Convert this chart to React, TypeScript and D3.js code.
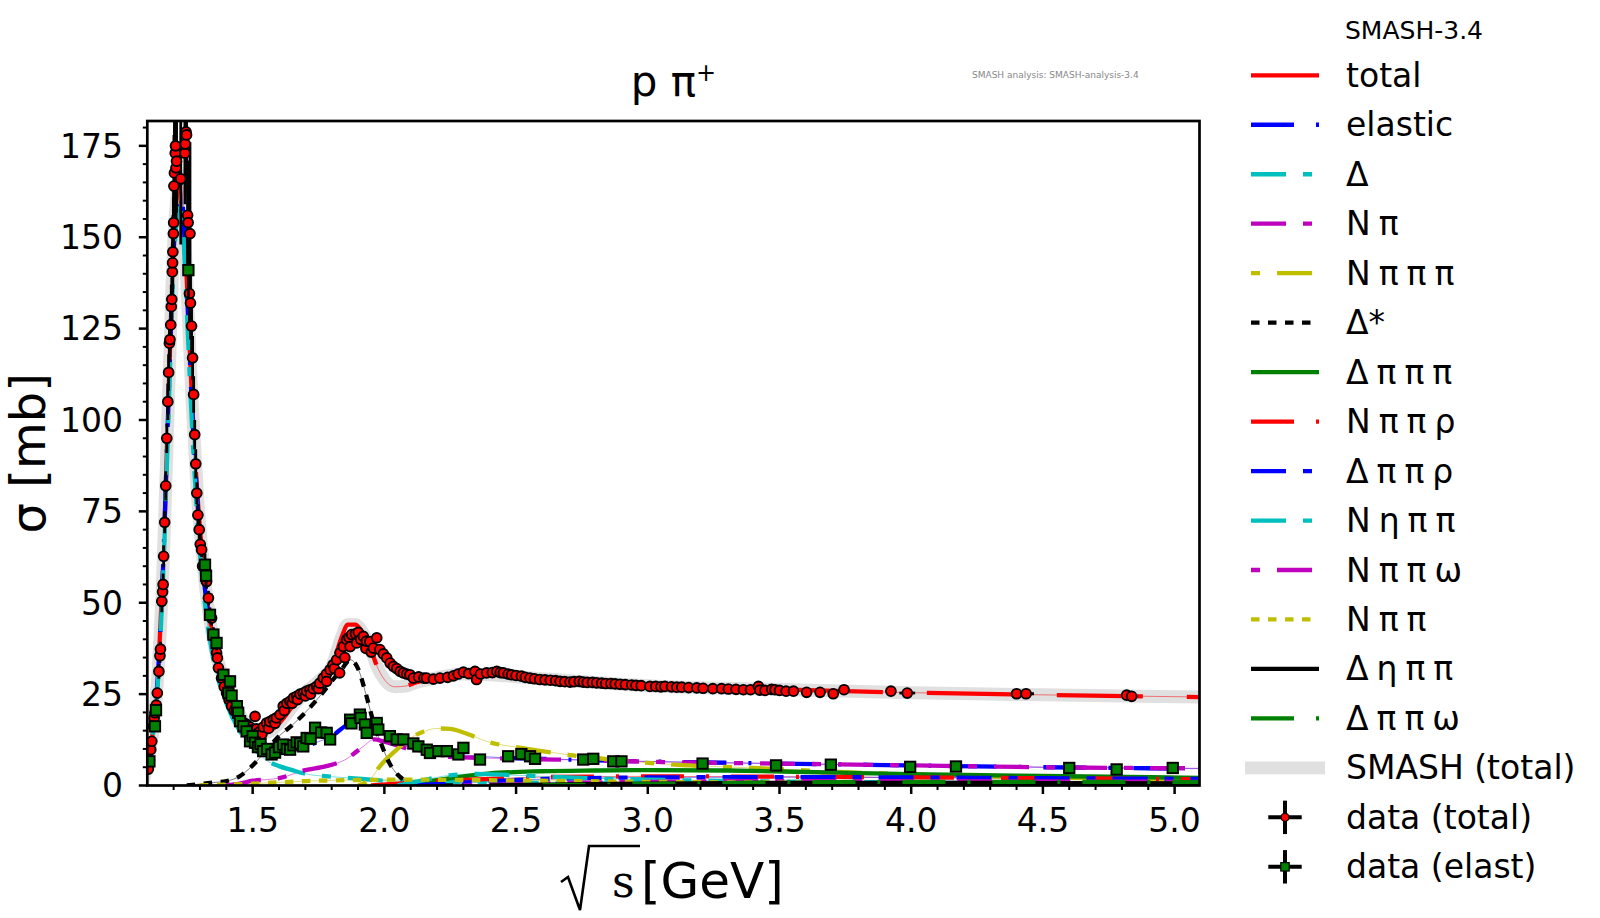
import { useEffect, useRef } from 'react'
import * as d3 from 'd3'

type Pt = [number, number]
type DataPt = [number, number, number, number?]

const W = 1600
const H = 918
const PLOT = { left: 147.3, right: 1199.5, top: 121, bottom: 785.5 }
const X_DOMAIN: [number, number] = [1.1, 5.0945]
const Y_DOMAIN: [number, number] = [0, 181.8]

const X_MAJOR = [1.5, 2.0, 2.5, 3.0, 3.5, 4.0, 4.5, 5.0]
const Y_MAJOR = [0, 25, 50, 75, 100, 125, 150, 175]

// SMASH curves, [sqrt(s) GeV, sigma mb]
const TOTAL: Pt[] = [
  [1.08, 0], [1.10, 6], [1.12, 14], [1.14, 30], [1.16, 60], [1.18, 105], [1.20, 148], [1.215, 163],
  [1.225, 167], [1.235, 160], [1.25, 138], [1.27, 105], [1.29, 80], [1.32, 55], [1.35, 40], [1.40, 27],
  [1.45, 19.5], [1.50, 15], [1.55, 14.5], [1.60, 17], [1.65, 21.5], [1.70, 25.5], [1.75, 28.5],
  [1.80, 32.5], [1.84, 41], [1.86, 44], [1.89, 44], [1.92, 41.5], [1.95, 37], [1.97, 33], [2.00, 29],
  [2.04, 27], [2.08, 27.2], [2.12, 28.2], [2.20, 29.5], [2.30, 30.5], [2.40, 30.3], [2.60, 29.2],
  [2.80, 28.2], [3.00, 27.3], [3.50, 26.3], [4.00, 25.4], [4.50, 24.8], [5.10, 24.2],
]
const ELASTIC: Pt[] = [
  [1.08, 0], [1.10, 6], [1.12, 14], [1.14, 30], [1.16, 60], [1.18, 104], [1.20, 146], [1.215, 161],
  [1.225, 165], [1.235, 158], [1.25, 136], [1.27, 103], [1.29, 78], [1.32, 53], [1.35, 38.5],
  [1.40, 25.5], [1.45, 17.5], [1.50, 12.5], [1.55, 11], [1.60, 10.3], [1.65, 10.2], [1.70, 10.8],
  [1.75, 12], [1.80, 13.5], [1.85, 16.2], [1.90, 18], [1.93, 17.5], [1.96, 16], [2.00, 14], [2.10, 11.2],
  [2.20, 9.5], [2.30, 8.4], [2.40, 7.8], [2.60, 7.3], [2.80, 6.9], [3.00, 6.6], [3.50, 6.0], [4.00, 5.5],
  [4.50, 5.0], [5.10, 4.6],
]
const DELTA: Pt[] = [
  [1.08, 0], [1.10, 5.5], [1.12, 13], [1.14, 28], [1.16, 57], [1.18, 100], [1.20, 142], [1.215, 157],
  [1.225, 160], [1.235, 153], [1.25, 130], [1.27, 98], [1.29, 73], [1.32, 49], [1.35, 35], [1.40, 22.5],
  [1.45, 15], [1.50, 10.5], [1.55, 7], [1.60, 5.3], [1.65, 4.2], [1.70, 3.2], [1.80, 2.4], [1.90, 1.9],
  [2.00, 1.3], [2.20, 1.1], [2.50, 0.8], [3.00, 0.5], [4.00, 0.3], [5.10, 0.2],
]
const N_PI: Pt[] = [
  [1.40, 0], [1.45, 0.5], [1.50, 1.3], [1.55, 1.6], [1.60, 2.0], [1.70, 4.2], [1.78, 5.3], [1.85, 7],
  [1.92, 10.7], [1.96, 12.6], [2.00, 12], [2.10, 9.8], [2.20, 8], [2.30, 7.7], [2.50, 7.3], [2.80, 6.9],
  [3.00, 6.5], [3.50, 6.0], [4.00, 5.5], [4.50, 5.0], [5.10, 4.7],
]
const N_3PI: Pt[] = [
  [1.90, 0], [1.95, 2], [1.98, 5], [2.05, 10], [2.10, 13], [2.15, 14.8], [2.20, 15.6], [2.25, 15.5],
  [2.30, 14.5], [2.40, 11.8], [2.50, 10.5], [2.70, 8.4], [2.90, 6.8], [3.10, 5.7], [3.40, 4.8],
  [3.70, 3.8], [4.00, 3.0], [4.50, 2.2], [5.10, 1.6],
]
const DELTA_STAR: Pt[] = [
  [1.25, 0], [1.35, 0.8], [1.40, 1.2], [1.45, 2.5], [1.50, 5.5], [1.55, 9.5], [1.60, 13.5], [1.65, 16.5],
  [1.70, 20], [1.75, 24], [1.80, 28.5], [1.84, 32], [1.87, 34.4], [1.90, 32], [1.93, 25], [1.96, 17],
  [1.99, 11], [2.02, 6], [2.05, 3], [2.08, 1.3], [2.12, 0.5], [2.20, 0.1], [2.30, 0],
]
const DELTA_3PI: Pt[] = [
  [2.00, 0], [2.10, 0.5], [2.20, 1.5], [2.30, 2.5], [2.40, 3.3], [2.60, 3.9], [2.80, 4.1], [3.00, 4.2],
  [3.30, 4.1], [3.60, 3.7], [4.00, 3.1], [4.50, 2.6], [5.10, 2.1],
]
const N_2PI_RHO: Pt[] = [
  [1.95, 0], [2.05, 0.5], [2.20, 1.2], [2.40, 1.8], [2.60, 2.3], [3.00, 2.5], [3.50, 2.4], [4.00, 2.2],
  [4.50, 2.0], [5.10, 1.7],
]
const DELTA_2PI_RHO: Pt[] = [
  [2.10, 0], [2.30, 0.8], [2.50, 1.5], [3.00, 2.2], [3.50, 2.3], [4.00, 2.2], [4.50, 2.0], [5.10, 1.8],
]
const N_ETA_2PI: Pt[] = [
  [2.05, 0], [2.15, 1.5], [2.25, 2.8], [2.35, 3.2], [2.50, 2.8], [2.70, 2.2], [3.00, 1.6], [3.50, 1.1],
  [4.00, 0.8], [4.50, 0.6], [5.10, 0.5],
]
const N_2PI_OMEGA: Pt[] = [
  [2.30, 0], [2.60, 0.5], [3.00, 1.0], [3.50, 1.2], [4.00, 1.2], [4.50, 1.1], [5.10, 1.0],
]
const N_2PI: Pt[] = [
  [1.30, 0], [1.50, 0.5], [1.70, 1.2], [1.90, 1.5], [2.10, 1.6], [2.30, 1.5], [2.60, 1.3], [3.00, 1.0],
  [3.50, 0.8], [4.00, 0.6], [5.10, 0.4],
]
const DELTA_ETA_2PI: Pt[] = [
  [2.40, 0], [2.70, 0.3], [3.00, 0.5], [3.50, 0.7], [4.00, 0.7], [5.10, 0.6],
]
const DELTA_2PI_OMEGA: Pt[] = [
  [2.60, 0], [3.00, 0.4], [3.50, 0.8], [4.00, 1.0], [4.50, 1.0], [5.10, 0.9],
]

// experimental points, [sqrt(s), sigma, d sigma, d sqrt(s)]
const DATA_TOTAL: DataPt[] = [
  [1.104, 4.5, 1], [1.108, 7, 1], [1.113, 9.8, 1], [1.117, 12.1, 1], [1.123, 16.2, 1], [1.126, 18.5, 1],
  [1.129, 19.9, 1.5], [1.134, 22, 1.5], [1.138, 25.3, 1.5], [1.144, 31.2, 2], [1.148, 35.5, 2],
  [1.150, 37.3, 2], [1.155, 50.4, 3], [1.158, 53, 3], [1.160, 55, 3], [1.162, 62.7, 3], [1.166, 72, 3],
  [1.170, 82, 4], [1.174, 95, 4], [1.178, 105, 5], [1.181, 113, 5], [1.184, 121, 5], [1.186, 122, 5],
  [1.189, 126, 5], [1.191, 131, 6], [1.193, 133, 6], [1.195, 140.5, 8], [1.196, 143, 8], [1.197, 146, 10],
  [1.199, 151, 10], [1.200, 154, 10], [1.201, 164, 14], [1.203, 167.6, 14], [1.206, 173, 14],
  [1.207, 175, 14], [1.209, 169, 14], [1.211, 170.8, 14], [1.227, 166, 18], [1.243, 173, 14],
  [1.244, 175.5, 14], [1.247, 178.8, 12], [1.249, 178, 12], [1.253, 156, 15], [1.255, 154, 15],
  [1.262, 151, 25], [1.260, 134.6, 10], [1.264, 132, 10], [1.268, 125.7, 8], [1.272, 117, 6],
  [1.276, 107, 5], [1.280, 96, 4], [1.284, 88, 4], [1.288, 80, 3], [1.292, 74, 3], [1.297, 70, 3],
  [1.301, 66, 3], [1.306, 64.5, 2], [1.310, 60, 2], [1.325, 55.8, 2], [1.332, 51.3, 2], [1.344, 45.8, 2],
  [1.351, 40.8, 1.5], [1.363, 36.3, 1.5], [1.366, 34.9, 1.5], [1.370, 32.2, 1.5], [1.382, 29.4, 1],
  [1.392, 27, 1], [1.401, 25.3, 1], [1.410, 23.5, 1], [1.420, 21.7, 1], [1.430, 20.5, 1], [1.440, 19.9, 1],
  [1.452, 18, 1], [1.465, 17.2, 1], [1.477, 16.7, 1], [1.490, 16, 1], [1.502, 15.3, 1], [1.509, 18.9, 1],
  [1.515, 15.5, 1], [1.520, 14.3, 1], [1.528, 14.8, 1], [1.535, 14, 1], [1.540, 16, 1], [1.553, 17.1, 1],
  [1.560, 15.6, 1], [1.565, 17.5, 1], [1.578, 18, 1], [1.585, 17, 1], [1.590, 18.5, 1], [1.604, 19.4, 1],
  [1.616, 21.7, 1], [1.620, 20.5, 1], [1.630, 22.5, 1], [1.642, 23, 1], [1.650, 22.5, 1], [1.655, 24, 1],
  [1.667, 24.4, 1], [1.670, 23.5, 1], [1.680, 25, 1], [1.692, 25.3, 1], [1.700, 24.5, 1], [1.705, 25.8, 1],
  [1.718, 26.2, 1], [1.720, 25, 1], [1.730, 26.5, 1], [1.743, 27.1, 1], [1.750, 26.5, 1], [1.755, 28, 1],
  [1.768, 29.4, 1], [1.780, 30.5, 1], [1.781, 28.5, 1], [1.794, 31.7, 1], [1.805, 33, 1], [1.810, 32, 1],
  [1.819, 34.4, 1], [1.830, 30.8, 1], [1.832, 36.3, 1], [1.844, 38, 1], [1.850, 35, 1], [1.857, 39.9, 1],
  [1.866, 40.5, 1], [1.870, 38, 1], [1.876, 41.3, 1], [1.890, 41.5, 1], [1.895, 39, 1], [1.901, 41.9, 1],
  [1.910, 40, 1], [1.920, 40.8, 1], [1.930, 37.5, 1], [1.932, 39.5, 1], [1.945, 39.4, 1], [1.950, 36.5, 1],
  [1.958, 37.6, 1], [1.971, 40.4, 1], [1.983, 37.2, 1], [1.996, 36, 1], [2.009, 34.9, 1], [2.022, 33.5, 1],
  [2.034, 32.6, 1], [2.047, 32, 1], [2.060, 31.2, 1], [2.072, 30.8, 1], [2.085, 30.5, 1], [2.097, 30.3, 1],
  [2.110, 29.4, 1], [2.130, 29.7, 1], [2.150, 29.4, 1], [2.160, 29.4, 1], [2.186, 29.1, 1], [2.211, 29.4, 1],
  [2.240, 29.6, 1], [2.262, 30, 1], [2.280, 30.5, 1], [2.300, 31, 1], [2.320, 30.6, 1], [2.344, 31.2, 1],
  [2.350, 29, 1], [2.365, 30.5, 1], [2.388, 30.8, 1], [2.410, 30.9, 1], [2.427, 31.2, 1], [2.440, 30.9, 1],
  [2.452, 30.8, 1], [2.470, 30.5, 1], [2.483, 30.3, 1], [2.500, 30.1, 1], [2.520, 29.9, 1], [2.535, 29.6, 1],
  [2.553, 29.4, 1], [2.570, 29.2, 1], [2.590, 29, 1], [2.610, 28.9, 1], [2.630, 28.8, 1], [2.650, 28.7, 1],
  [2.667, 28.5, 1], [2.685, 28.4, 1], [2.705, 28.3, 1], [2.720, 28.4, 1], [2.740, 28.5, 1], [2.755, 28.3, 1],
  [2.770, 28.2, 1], [2.790, 28.2, 1], [2.806, 28.1, 1], [2.825, 28, 1], [2.840, 27.9, 1], [2.860, 27.9, 1],
  [2.876, 27.8, 1], [2.895, 27.7, 1], [2.915, 27.6, 1], [2.939, 27.5, 1], [2.955, 27.4, 1], [2.975, 27.3, 1],
  [3.008, 27.1, 1], [3.030, 27.1, 1], [3.050, 27, 1], [3.065, 27.1, 1], [3.090, 27, 1], [3.110, 26.9, 1],
  [3.129, 26.9, 1], [3.155, 26.8, 1], [3.186, 26.7, 1], [3.210, 26.6, 1], [3.247, 26.5, 1], [3.280, 26.5, 1],
  [3.306, 26.4, 1], [3.335, 26.3, 1], [3.363, 26.2, 1], [3.390, 26.2, 1], [3.420, 27.1, 1], [3.425, 26.1, 1],
  [3.445, 26, 1], [3.470, 26.3, 1], [3.483, 26.2, 1], [3.500, 26, 1], [3.525, 25.8, 1], [3.553, 25.8, 1],
  [3.603, 25.5, 1], [3.654, 25.5, 1], [3.704, 25.1, 1], [3.745, 26.2, 1], [3.923, 25.8, 1],
  [3.985, 25.3, 1, 0.03], [4.400, 25.1, 1], [4.436, 25.1, 1, 0.03], [4.818, 24.7, 1], [4.837, 24.4, 1],
]
const DATA_ELAST: DataPt[] = [
  [1.108, 6.6, 1], [1.129, 16.2, 1.5], [1.133, 20.6, 1.5], [1.256, 141, 8], [1.319, 60.4, 3],
  [1.323, 57.4, 3], [1.338, 46.7, 2], [1.351, 41.3, 2], [1.363, 39, 2], [1.389, 30.3, 1.5], [1.408, 25.3, 1],
  [1.414, 28.5, 1.5], [1.420, 24.6, 1], [1.440, 21.7, 1], [1.445, 19.9, 1], [1.452, 17.6, 1],
  [1.465, 16.2, 1], [1.477, 14.8, 1], [1.490, 12.1, 1], [1.500, 13.5, 1], [1.509, 11.7, 1], [1.520, 10.5, 1],
  [1.530, 11.3, 1], [1.540, 9.4, 1], [1.555, 10, 1], [1.572, 8.5, 1], [1.585, 9, 1], [1.600, 10.5, 1],
  [1.616, 11.2, 1], [1.630, 10, 1], [1.642, 9.8, 1], [1.655, 11, 1], [1.667, 11.8, 1], [1.680, 11.5, 1],
  [1.692, 10.7, 1], [1.705, 13, 1], [1.720, 12.8, 1], [1.737, 15.8, 1], [1.760, 14.5, 1], [1.781, 14.4, 1],
  [1.794, 12.6, 1], [1.870, 18, 1], [1.875, 17, 1], [1.907, 19.4, 1], [1.910, 18.5, 1], [1.926, 16.7, 1],
  [1.933, 14.4, 1], [1.971, 17.1, 1], [1.977, 15.3, 1], [2.021, 13.5, 1], [2.047, 12.6, 1], [2.072, 12.6, 1],
  [2.110, 11.5, 1], [2.129, 10.7, 1], [2.161, 9.8, 1], [2.173, 8.9, 1], [2.205, 9.4, 1], [2.237, 9.4, 1],
  [2.281, 8.5, 1], [2.300, 10.3, 1], [2.363, 7.1, 1], [2.470, 8, 1], [2.520, 8.6, 1], [2.553, 8, 1],
  [2.572, 7.3, 1], [2.755, 7.1, 1], [2.793, 7.3, 1], [2.869, 6.6, 1], [2.900, 6.6, 1], [3.208, 6, 1],
  [3.487, 5.5, 1], [3.695, 5.7, 1], [3.996, 5.1, 1], [4.170, 5.2, 1], [4.600, 4.8, 1], [4.780, 4.4, 1],
  [4.993, 4.8, 1],
]

const C = { r: '#FF0000', b: '#0000FF', c: '#00BFBF', m: '#BF00BF', y: '#BFBF00', k: '#000000', g: '#008000' }
const DASH_A = '43 22 3 22'
const DASH_B = '35 17 9 17'
const DASH_D = '8.5 8.5'

const CURVES = [
  { label: 'total', color: C.r, dash: '86 44', legendDash: '', offset: 0, data: TOTAL },
  { label: 'elastic', color: C.b, dash: DASH_A, legendDash: DASH_A, offset: 0, data: ELASTIC },
  { label: 'Δ', color: C.c, dash: DASH_B, legendDash: DASH_B, offset: 0, data: DELTA },
  { label: 'N π', color: C.m, dash: DASH_B, legendDash: DASH_B, offset: 0, data: N_PI },
  { label: 'N π π π', color: C.y, dash: DASH_B, legendDash: DASH_B, offset: 52, data: N_3PI },
  { label: 'Δ*', color: C.k, dash: DASH_D, legendDash: DASH_D, offset: 0, data: DELTA_STAR },
  { label: 'Δ π π π', color: C.g, dash: '', legendDash: '', offset: 0, data: DELTA_3PI },
  { label: 'N π π ρ', color: C.r, dash: DASH_A, legendDash: DASH_A, offset: 0, data: N_2PI_RHO },
  { label: 'Δ π π ρ', color: C.b, dash: DASH_B, legendDash: DASH_B, offset: 0, data: DELTA_2PI_RHO },
  { label: 'N η π π', color: C.c, dash: DASH_B, legendDash: DASH_B, offset: 0, data: N_ETA_2PI },
  { label: 'N π π ω', color: C.m, dash: DASH_B, legendDash: DASH_B, offset: 52, data: N_2PI_OMEGA },
  { label: 'N π π', color: C.y, dash: DASH_D, legendDash: DASH_D, offset: 0, data: N_2PI },
  { label: 'Δ η π π', color: C.k, dash: '', legendDash: '', offset: 0, data: DELTA_ETA_2PI },
  { label: 'Δ π π ω', color: C.g, dash: DASH_A, legendDash: DASH_A, offset: 0, data: DELTA_2PI_OMEGA },
]

const FONT = '"DejaVu Sans", Verdana, sans-serif'
const SERIF = '"DejaVu Serif", "Liberation Serif", serif'

export default function App() {
  const svgRef = useRef<SVGSVGElement>(null)

  useEffect(() => {
    document.body.style.margin = '0'
    const svgEl = svgRef.current
    if (!svgEl) return
    const svg = d3.select(svgEl)
    svg.selectAll('*').remove()
    svg.attr('width', W).attr('height', H)

    svg.append('rect').attr('width', W).attr('height', H).attr('fill', '#fff')

    const x = d3.scaleLinear().domain(X_DOMAIN).range([PLOT.left, PLOT.right])
    const y = d3.scaleLinear().domain(Y_DOMAIN).range([PLOT.bottom, PLOT.top])

    svg.append('defs').append('clipPath').attr('id', 'plot-clip')
      .append('rect')
      .attr('x', PLOT.left).attr('y', PLOT.top)
      .attr('width', PLOT.right - PLOT.left).attr('height', PLOT.bottom - PLOT.top)

    const plot = svg.append('g').attr('clip-path', 'url(#plot-clip)')

    const line = d3.line<Pt>()
      .x(d => x(d[0]))
      .y(d => y(d[1]))
      .curve(d3.curveMonotoneX)

    // SMASH (total) band
    plot.append('path')
      .attr('d', line(TOTAL))
      .attr('fill', 'none')
      .attr('stroke', '#E0E0E0')
      .attr('stroke-width', 13)
      .attr('stroke-linejoin', 'round')

    // thin companions
    CURVES.forEach(c => {
      plot.append('path')
        .attr('d', line(c.data))
        .attr('fill', 'none')
        .attr('stroke', c.color)
        .attr('stroke-width', 1)
        .attr('stroke-opacity', 0.5)
    })

    // thick dashed channels
    CURVES.forEach(c => {
      plot.append('path')
        .attr('d', line(c.data))
        .attr('fill', 'none')
        .attr('stroke', c.color)
        .attr('stroke-width', 4.3)
        .attr('stroke-dasharray', c.dash || null)
        .attr('stroke-dashoffset', c.offset)
    })

    // data with error bars
    const drawData = (pts: DataPt[], kind: 'circle' | 'square') => {
      const g = plot.append('g')
      pts.forEach(p => {
        const [s, v, dv, ds] = p
        g.append('line')
          .attr('x1', x(s)).attr('x2', x(s))
          .attr('y1', y(v - dv)).attr('y2', y(v + dv))
          .attr('stroke', '#000').attr('stroke-width', 2.8)
        if (ds) {
          g.append('line')
            .attr('x1', x(s - ds)).attr('x2', x(s + ds))
            .attr('y1', y(v)).attr('y2', y(v))
            .attr('stroke', '#000').attr('stroke-width', 2.8)
        }
      })
      pts.forEach(p => {
        const [s, v] = p
        if (kind === 'circle') {
          g.append('circle')
            .attr('cx', x(s)).attr('cy', y(v)).attr('r', 4.9)
            .attr('fill', C.r).attr('stroke', '#000').attr('stroke-width', 1.9)
        } else {
          g.append('rect')
            .attr('x', x(s) - 5.2).attr('y', y(v) - 5.2).attr('width', 10.4).attr('height', 10.4)
            .attr('fill', C.g).attr('stroke', '#000').attr('stroke-width', 1.9)
        }
      })
    }
    drawData(DATA_TOTAL, 'circle')
    drawData(DATA_ELAST, 'square')

    // frame
    svg.append('rect')
      .attr('x', PLOT.left).attr('y', PLOT.top)
      .attr('width', PLOT.right - PLOT.left).attr('height', PLOT.bottom - PLOT.top)
      .attr('fill', 'none').attr('stroke', '#000').attr('stroke-width', 2.7)

    // ticks
    const xMinor = d3.range(12, 51).map(v => v / 10).filter(v => !X_MAJOR.some(m => Math.abs(m - v) < 1e-6))
    const yMinor = d3.range(0, 182, 5).filter(v => v % 25 !== 0)
    const ticks = svg.append('g').attr('stroke', '#000')
    X_MAJOR.forEach(v => ticks.append('line')
      .attr('x1', x(v)).attr('x2', x(v)).attr('y1', PLOT.bottom).attr('y2', PLOT.bottom + 8.5).attr('stroke-width', 2.5))
    xMinor.forEach(v => ticks.append('line')
      .attr('x1', x(v)).attr('x2', x(v)).attr('y1', PLOT.bottom).attr('y2', PLOT.bottom + 4.5).attr('stroke-width', 2))
    Y_MAJOR.forEach(v => ticks.append('line')
      .attr('x1', PLOT.left - 8.5).attr('x2', PLOT.left).attr('y1', y(v)).attr('y2', y(v)).attr('stroke-width', 2.5))
    yMinor.forEach(v => ticks.append('line')
      .attr('x1', PLOT.left - 4.5).attr('x2', PLOT.left).attr('y1', y(v)).attr('y2', y(v)).attr('stroke-width', 2))

    const labels = svg.append('g').attr('font-family', FONT).attr('fill', '#000')
    X_MAJOR.forEach(v => labels.append('text')
      .attr('x', x(v)).attr('y', 832)
      .attr('text-anchor', 'middle').attr('font-size', 33)
      .text(v.toFixed(1)))
    Y_MAJOR.forEach(v => labels.append('text')
      .attr('x', 123).attr('y', y(v)).attr('dy', '0.36em')
      .attr('text-anchor', 'end').attr('font-size', 33)
      .text(String(v)))

    // axis titles
    labels.append('text')
      .attr('transform', `translate(45,${(PLOT.top + PLOT.bottom) / 2}) rotate(-90)`)
      .attr('text-anchor', 'middle').attr('font-size', 48)
      .text('σ [mb]')

    svg.append('path')
      .attr('d', 'M561,882 L568,877 L580,910 L589,846 L640,846')
      .attr('fill', 'none').attr('stroke', '#000').attr('stroke-width', 2.6)
      .attr('stroke-linejoin', 'miter')
    labels.append('text')
      .attr('x', 612).attr('y', 897)
      .attr('font-family', SERIF).attr('font-size', 44)
      .text('s')
    labels.append('text')
      .attr('x', 641).attr('y', 898)
      .attr('font-size', 50)
      .text('[GeV]')

    // title
    const title = labels.append('text')
      .attr('x', (PLOT.left + PLOT.right) / 2).attr('y', 96)
      .attr('text-anchor', 'middle').attr('font-size', 42)
    title.append('tspan').text('p π')
    title.append('tspan').attr('font-size', 24).attr('dy', -15).text('+')

    labels.append('text')
      .attr('x', 972).attr('y', 78)
      .attr('font-size', 9).attr('fill', '#888')
      .text('SMASH analysis: SMASH-analysis-3.4')

    // legend
    const leg = svg.append('g').attr('font-family', FONT)
    const rowY = (i: number) => 75.3 + 49.47 * i
    const LX0 = 1251
    const LX1 = 1319
    const TX = 1346

    leg.append('text').attr('x', 1345).attr('y', 39.3).attr('font-size', 25).text('SMASH-3.4')

    CURVES.forEach((c, i) => {
      const yy = rowY(i)
      leg.append('line')
        .attr('x1', LX0).attr('x2', LX1).attr('y1', yy).attr('y2', yy)
        .attr('stroke', c.color).attr('stroke-width', 4.3)
        .attr('stroke-dasharray', c.legendDash || null)
        .attr('stroke-dashoffset', c.offset)
      leg.append('text').attr('x', TX).attr('y', yy + 11.5).attr('font-size', 33)
        .attr('word-spacing', -2.5)
        .text(c.label)
    })

    const iBand = CURVES.length
    leg.append('rect')
      .attr('x', 1245).attr('y', rowY(iBand) - 6.4).attr('width', 80).attr('height', 12.8)
      .attr('fill', '#E0E0E0')
    leg.append('text').attr('x', TX).attr('y', rowY(iBand) + 11.5).attr('font-size', 33).text('SMASH (total)')

    const markerRows: { label: string; kind: 'circle' | 'square' }[] = [
      { label: 'data (total)', kind: 'circle' },
      { label: 'data (elast)', kind: 'square' },
    ]
    markerRows.forEach((m, k) => {
      const yy = rowY(iBand + 1 + k)
      const cx = 1285
      leg.append('line').attr('x1', cx - 16.7).attr('x2', cx + 16.7).attr('y1', yy).attr('y2', yy)
        .attr('stroke', '#000').attr('stroke-width', 4)
      leg.append('line').attr('x1', cx).attr('x2', cx).attr('y1', yy - 16.7).attr('y2', yy + 16.7)
        .attr('stroke', '#000').attr('stroke-width', 4)
      if (m.kind === 'circle') {
        leg.append('circle').attr('cx', cx).attr('cy', yy).attr('r', 4)
          .attr('fill', C.r).attr('stroke', '#000').attr('stroke-width', 1.2)
      } else {
        leg.append('rect').attr('x', cx - 4.2).attr('y', yy - 4.2).attr('width', 8.4).attr('height', 8.4)
          .attr('fill', C.g).attr('stroke', '#000').attr('stroke-width', 1.2)
      }
      leg.append('text').attr('x', TX).attr('y', yy + 11.5).attr('font-size', 33).text(m.label)
    })
  }, [])

  return <svg ref={svgRef} style={{ display: 'block' }} />
}
